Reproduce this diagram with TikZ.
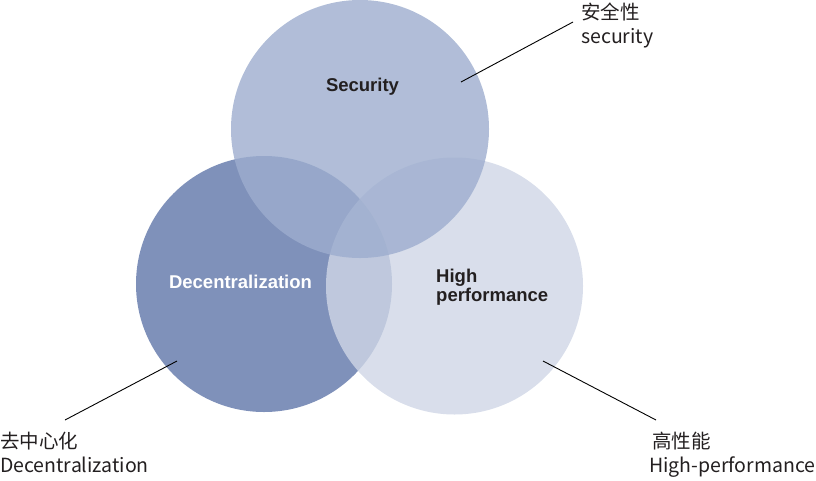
\documentclass[tikz,border=0pt]{standalone}
\usepackage{fontspec}
\setmainfont{Liberation Sans}
\newfontfamily\cjk{Noto Sans CJK SC}

\definecolor{secblue}{HTML}{9DADCE}
\definecolor{decblue}{HTML}{7F91BA}
\definecolor{perfblue}{HTML}{CFD6E6}
\definecolor{ink}{HTML}{231F20}

\tikzset{
  ring/.style={shape=circle,minimum size=#1,inner sep=0pt},
  tag/.style={font=\bfseries\fontsize{18.5}{19}\selectfont,text=ink,inner sep=0pt},
  note/.style={font=\cjk\fontsize{19.5}{23.5}\selectfont,text=ink,align=left,inner sep=0pt,anchor=north west},
  leader/.style={draw=black,line width=0.9pt}
}

\begin{document}
\begin{tikzpicture}[x=1pt,y=-1pt]
	\useasboundingbox (0,0) rectangle (816,480);

	% the three circles
	\node[ring=256pt,fill=decblue]                    (dec)  at (264,284)   {};
	\node[ring=257pt,fill=perfblue,fill opacity=0.8]  (perf) at (454.5,286) {};
	\node[ring=258pt,fill=secblue,fill opacity=0.8]   (sec)  at (360,129)   {};

	% names inside
	\node[tag,anchor=base]                   (secname)  at (362.5,91) {Security};
	\node[tag,anchor=base,text=white]        (decname)  at (240.5,288) {Decentralization};
	\node[tag,anchor=north west,align=left]  (perfname) at (436,269)  {High\\performance};

	% notes outside
	\node[note] (secnote)  at (581,3)   {安全性\\security};
	\node[note] (decnote)  at (0,432)   {去中心化\\Decentralization};
	\node[note] (perfnote) at (649,432) {\hspace{3pt}高性能\\High-performance};

	\coordinate (secin)   at (461,82);
	\coordinate (secout)  at (573,22);
	\coordinate (decin)   at (177,361);
	\coordinate (decout)  at (65,420);
	\coordinate (perfin)  at (543,361);
	\coordinate (perfout) at (656,420);

	\path[leader] (secin)  edge (secout);
	\path[leader] (decin)  edge (decout);
	\path[leader] (perfin) edge (perfout);

\end{tikzpicture}
\end{document}
